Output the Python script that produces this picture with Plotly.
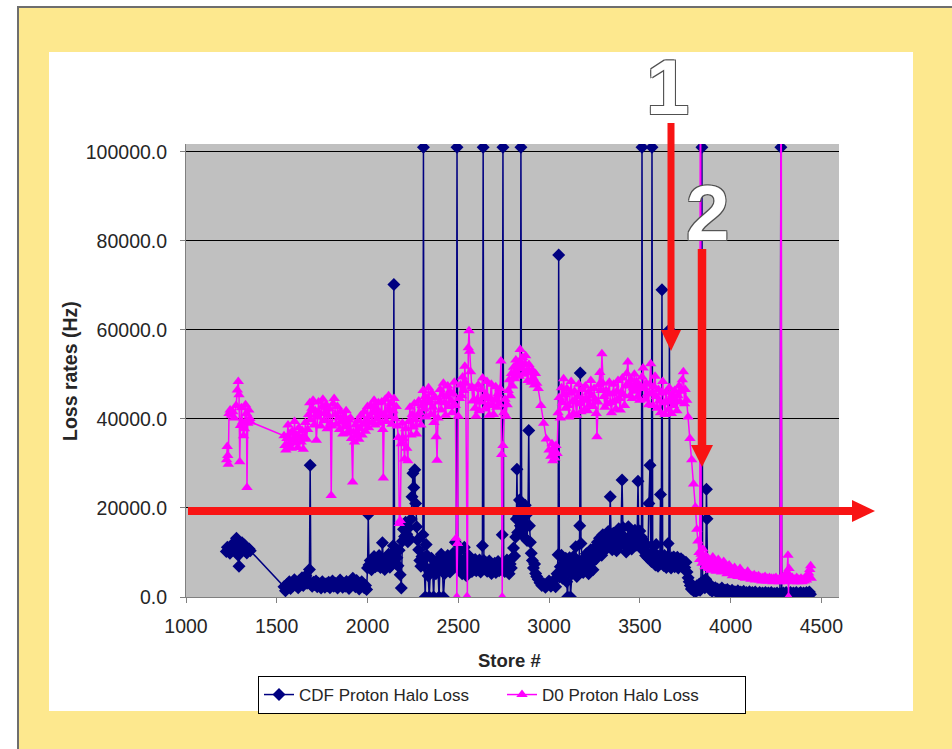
import plotly.graph_objects as go

# ---- CDF proton halo loss rate per store ----
cdf_store = [
    1222, 1228, 1234, 1242, 1250, 1258, 1266, 1272, 1278, 1283,
    1288, 1292, 1297, 1303, 1309, 1316, 1322, 1328, 1335, 1341,
    1348, 1354, 1540, 1548, 1556, 1562, 1569, 1576, 1583, 1590,
    1597, 1604, 1611, 1618, 1625, 1632, 1639, 1646, 1653, 1660,
    1667, 1674, 1680, 1684, 1688, 1695, 1702, 1709, 1716, 1723,
    1730, 1737, 1744, 1751, 1758, 1765, 1772, 1779, 1786, 1793,
    1800, 1807, 1814, 1821, 1828, 1835, 1842, 1849, 1856, 1863,
    1870, 1877, 1884, 1891, 1898, 1905, 1912, 1919, 1926, 1933,
    1940, 1947, 1954, 1961, 1968, 1975, 1982, 1989, 1995, 2000,
    2004, 2008, 2015, 2022, 2029, 2036, 2043, 2050, 2057, 2064,
    2071, 2078, 2082, 2088, 2095, 2102, 2109, 2116, 2123, 2130,
    2137, 2142, 2145, 2149, 2155, 2162, 2168, 2174, 2180, 2186,
    2192, 2198, 2204, 2210, 2216, 2222, 2228, 2234, 2240, 2245,
    2250, 2255, 2260, 2265, 2270, 2276, 2282, 2288, 2294, 2300,
    2305, 2308, 2312, 2318, 2323, 2328, 2334, 2340, 2346, 2352,
    2358, 2364, 2370, 2376, 2382, 2388, 2394, 2400, 2406, 2412,
    2418, 2424, 2430, 2436, 2442, 2448, 2454, 2460, 2466, 2472,
    2478, 2484, 2489, 2493, 2497, 2503, 2509, 2515, 2521, 2527,
    2533, 2539, 2545, 2551, 2557, 2563, 2569, 2575, 2581, 2587,
    2593, 2599, 2605, 2611, 2617, 2623, 2629, 2633, 2637, 2641,
    2647, 2653, 2659, 2665, 2671, 2677, 2683, 2689, 2695, 2701,
    2707, 2713, 2719, 2725, 2731, 2737, 2742, 2746, 2750, 2756,
    2762, 2768, 2774, 2780, 2786, 2792, 2798, 2804, 2810, 2816,
    2820, 2823, 2827, 2832, 2837, 2842, 2845, 2849, 2854, 2859,
    2864, 2869, 2874, 2879, 2884, 2888, 2892, 2897, 2902, 2908,
    2914, 2920, 2926, 2932, 2940, 2950, 2960, 2970, 2980, 2990,
    3000, 3010, 3020, 3028, 3036, 3044, 3050, 3053, 3057, 3062,
    3068, 3074, 3080, 3086, 3092, 3097, 3102, 3107, 3113, 3118,
    3123, 3129, 3135, 3141, 3147, 3153, 3159, 3165, 3169, 3172,
    3176, 3182, 3188, 3194, 3200, 3206, 3212, 3218, 3224, 3230,
    3236, 3242, 3248, 3254, 3260, 3266, 3272, 3278, 3284, 3290,
    3296, 3302, 3308, 3314, 3320, 3326, 3332, 3337, 3342, 3348,
    3354, 3360, 3366, 3372, 3378, 3384, 3390, 3396, 3402, 3407,
    3413, 3419, 3425, 3431, 3437, 3443, 3449, 3455, 3461, 3467,
    3473, 3479, 3485, 3490, 3495, 3500, 3505, 3509, 3512, 3516,
    3521, 3527, 3532, 3538, 3544, 3550, 3556, 3560, 3564, 3567,
    3571, 3576, 3581, 3586, 3590, 3595, 3600, 3605, 3610, 3614,
    3618, 3622, 3626, 3631, 3636, 3641, 3646, 3651, 3656, 3660,
    3663, 3667, 3672, 3677, 3682, 3687, 3692, 3697, 3702, 3707,
    3712, 3717, 3722, 3727, 3732, 3737, 3742, 3748, 3754, 3760,
    3766, 3772, 3778, 3784, 3790, 3796, 3802, 3808, 3814, 3820,
    3826, 3832, 3837, 3842, 3846, 3852, 3858, 3863, 3867, 3870,
    3874, 3880, 3886, 3892, 3898, 3904, 3910, 3916, 3922, 3928,
    3934, 3940, 3946, 3952, 3958, 3964, 3970, 3976, 3982, 3988,
    3994, 4000, 4008, 4016, 4024, 4032, 4040, 4048, 4056, 4064,
    4072, 4080, 4088, 4096, 4104, 4112, 4120, 4128, 4136, 4144,
    4152, 4160, 4168, 4176, 4184, 4192, 4200, 4208, 4216, 4224,
    4232, 4240, 4248, 4256, 4264, 4272, 4277, 4282, 4290, 4298,
    4306, 4314, 4322, 4330, 4338, 4346, 4354, 4362, 4370, 4378,
    4386, 4394, 4402, 4410, 4418, 4426, 4434, 4440,
]
cdf_loss = [
    10200, 11200, 10400, 9800, 11000, 10600, 12300, 11800, 13200, 12400,
    9400, 6900, 10200, 11600, 12200, 10900, 11700, 10300, 9900, 10500,
    10800, 10400, 2300, 1400, 2800, 2300, 3400, 1900, 3000, 2500,
    3900, 2700, 3300, 2100, 3700, 2900, 4300, 2600, 3400, 4800,
    3100, 3600, 6200, 29600, 2900, 2400, 3300, 2800, 3600, 2300,
    3100, 2600, 2000, 3400, 2700, 2200, 3000, 2500, 3300, 2100,
    2900, 3600, 2400, 3100, 2700, 2000, 3200, 3800, 2600, 2200,
    3000, 2400, 3500, 2800, 1900, 2600, 3300, 4200, 3000, 2300,
    3700, 2700, 1800, 2500, 3400, 2900, 2100, 2600, 1700, 6500,
    18500, 7200, 8200, 6100, 7600, 9100, 6800, 8400, 7100, 9300,
    6600, 8700, 12200, 7400, 6200, 8600, 7300, 9600, 6700, 8100,
    9900, 11500, 70200, 9200, 7600, 8800, 7000, 10500, 5000, 2000,
    12500, 15200, 13600, 16800, 14100, 12400, 15600, 13000, 17500, 22500,
    27800, 24600, 28600, 21000, 15800, 12800, 10600, 8200, 6900, 9100,
    14000, 101000, 7000, 0, 11800, 9300, 4800, 0, 5600, 8700,
    6400, 0, 7300, 5200, 8200, 6100, 0, 7800, 9600, 6900,
    0, 5200, 8400, 6300, 9300, 7200, 5600, 8600, 6400, 9800,
    7600, 12300, 9000, 101000, 8800, 6300, 10400, 7700, 5200, 8200,
    11200, 6700, 4800, 7600, 9300, 6100, 8000, 5700, 7300, 6200,
    8400, 5900, 7100, 6500, 8300, 5600, 7000, 11500, 101000, 8200,
    6300, 7700, 5800, 6900, 8100, 6400, 5300, 7200, 6000, 7600,
    5500, 6800, 8000, 5900, 7100, 6200, 14000, 101000, 7300, 5700,
    6800, 8300, 6100, 5200, 7400, 6500, 8800, 11000, 9200, 13500,
    17500, 28700, 14500, 18200, 21800, 16000, 101000, 19800, 15200, 17800,
    13400, 20600, 16300, 12700, 18800, 37400, 16000, 12300, 9800, 8200,
    6500, 7400, 5300, 4600, 4000, 3200, 2600, 3000, 2200, 2700,
    3600, 2400, 2900, 3800, 2300, 5200, 9500, 76800, 4500, 6800,
    9400, 4200, 7500, 5600, 8700, 3400, 0, 6300, 8800, 0,
    5100, 7300, 9100, 6200, 11300, 4600, 8100, 6700, 16000, 50300,
    12000, 7200, 5500, 8800, 6600, 9700, 7400, 5200, 8300, 10600,
    7700, 6100, 9300, 11200, 8600, 12300, 10100, 13200, 11700, 9400,
    14000, 12400, 10700, 13600, 11000, 14700, 12200, 22500, 13100, 10600,
    14300, 11900, 13800, 10400, 12800, 15300, 11500, 13900, 26300, 15600,
    11900, 13300, 10100, 12600, 15800, 11200, 13700, 10800, 14200, 12100,
    15000, 11600, 13100, 26000, 12600, 14800, 11000, 13500, 101000, 12900,
    10400, 12100, 9300, 11600, 8800, 21000, 29600, 9500, 8000, 101000,
    10200, 8100, 9700, 7200, 11800, 8600, 6900, 9200, 7700, 23000,
    9100, 69000, 8600, 7100, 9300, 7600, 6600, 8900, 12000, 7400,
    60000, 8100, 6500, 8800, 7300, 9000, 6800, 8300, 7000, 8900,
    6500, 7900, 7100, 8600, 6900, 8200, 7500, 6600, 7800, 5600,
    4300, 3400, 2600, 1800, 2300, 1400, 2000, 1200, 2500, 1600,
    2800, 1500, 3200, 101000, 2400, 3600, 2100, 4000, 24200, 17600,
    3100, 2200, 1700, 2600, 1300, 2000, 1500, 2100, 1200, 1800,
    900, 1600, 1100, 2000, 1300, 800, 1500, 1000, 1700, 700,
    1300, 900, 1500, 800, 1200, 600, 1400, 900, 1100, 500,
    1300, 800, 1000, 600, 1200, 700, 1000, 500, 1100, 800,
    600, 1000, 700, 900, 500, 1000, 700, 900, 600, 1000,
    500, 800, 700, 900, 500, 800, 101000, 600, 900, 700,
    1000, 500, 800, 1000, 600, 900, 700, 1000, 500, 800,
    1000, 600, 900, 700, 1000, 800, 1100, 600,
]

# ---- D0 proton halo loss rate per store (off-scale spikes run past the top) ----
d0_store = [
    1224, 1227, 1230, 1233, 1237, 1243, 1250, 1258, 1266, 1276,
    1283, 1288, 1292, 1296, 1300, 1305, 1311, 1317, 1322, 1328,
    1333, 1336, 1340, 1346, 1352, 1356, 1540, 1545, 1550, 1556,
    1562, 1568, 1574, 1580, 1586, 1592, 1598, 1604, 1610, 1616,
    1622, 1628, 1634, 1640, 1646, 1652, 1658, 1664, 1670, 1676,
    1682, 1688, 1694, 1700, 1706, 1712, 1718, 1724, 1730, 1736,
    1742, 1748, 1754, 1760, 1766, 1772, 1778, 1784, 1790, 1796,
    1800, 1804, 1810, 1816, 1822, 1828, 1834, 1840, 1846, 1852,
    1858, 1864, 1870, 1876, 1882, 1888, 1894, 1900, 1906, 1912,
    1918, 1922, 1928, 1934, 1940, 1946, 1952, 1958, 1964, 1970,
    1976, 1982, 1988, 1994, 2000, 2006, 2012, 2018, 2024, 2030,
    2036, 2042, 2048, 2054, 2060, 2066, 2072, 2078, 2084, 2087,
    2092, 2098, 2104, 2110, 2116, 2122, 2128, 2134, 2140, 2146,
    2152, 2158, 2164, 2170, 2175, 2180, 2186, 2192, 2198, 2204,
    2210, 2216, 2222, 2228, 2234, 2240, 2246, 2252, 2258, 2264,
    2270, 2276, 2282, 2288, 2294, 2300, 2306, 2312, 2318, 2324,
    2330, 2336, 2342, 2348, 2354, 2360, 2366, 2372, 2378, 2383,
    2388, 2394, 2400, 2406, 2412, 2418, 2424, 2430, 2436, 2442,
    2448, 2454, 2460, 2466, 2472, 2478, 2484, 2488, 2492, 2496,
    2500, 2506, 2512, 2518, 2524, 2530, 2536, 2541, 2546, 2550,
    2555, 2559, 2563, 2568, 2574, 2580, 2586, 2592, 2598, 2604,
    2610, 2616, 2622, 2628, 2634, 2640, 2646, 2652, 2658, 2664,
    2670, 2676, 2682, 2688, 2694, 2700, 2706, 2712, 2718, 2724,
    2730, 2735, 2739, 2742, 2746, 2751, 2757, 2763, 2769, 2775,
    2781, 2787, 2793, 2799, 2805, 2811, 2817, 2823, 2829, 2835,
    2841, 2847, 2853, 2859, 2865, 2871, 2877, 2883, 2889, 2895,
    2901, 2907, 2913, 2919, 2925, 2932, 2940, 2955, 2970, 2985,
    3000, 3010, 3016, 3021, 3026, 3032, 3038, 3044, 3050, 3056,
    3062, 3068, 3074, 3080, 3086, 3092, 3098, 3104, 3110, 3116,
    3122, 3128, 3134, 3140, 3146, 3152, 3158, 3164, 3170, 3176,
    3182, 3188, 3194, 3200, 3206, 3212, 3218, 3224, 3230, 3236,
    3242, 3248, 3254, 3260, 3264, 3268, 3274, 3280, 3286, 3291,
    3296, 3302, 3308, 3314, 3320, 3326, 3332, 3338, 3344, 3350,
    3356, 3362, 3368, 3374, 3380, 3386, 3392, 3398, 3404, 3410,
    3416, 3422, 3428, 3434, 3440, 3446, 3452, 3458, 3464, 3470,
    3476, 3482, 3488, 3494, 3500, 3506, 3512, 3518, 3524, 3530,
    3536, 3542, 3548, 3554, 3560, 3566, 3572, 3578, 3584, 3590,
    3596, 3602, 3608, 3614, 3620, 3626, 3632, 3638, 3644, 3650,
    3656, 3662, 3668, 3674, 3680, 3686, 3692, 3698, 3704, 3710,
    3716, 3722, 3728, 3734, 3740, 3746, 3750, 3758, 3766, 3776,
    3786, 3796, 3806, 3814, 3820, 3826, 3830, 3834, 3838, 3843,
    3848, 3853, 3858, 3863, 3868, 3873, 3878, 3884, 3890, 3896,
    3902, 3908, 3914, 3920, 3926, 3932, 3938, 3944, 3950, 3956,
    3962, 3968, 3974, 3980, 3986, 3992, 3998, 4004, 4010, 4016,
    4022, 4028, 4034, 4040, 4046, 4052, 4058, 4064, 4070, 4076,
    4082, 4088, 4094, 4100, 4106, 4112, 4118, 4124, 4130, 4136,
    4142, 4148, 4154, 4160, 4166, 4172, 4178, 4184, 4190, 4196,
    4202, 4208, 4214, 4220, 4226, 4232, 4238, 4244, 4250, 4256,
    4262, 4268, 4274, 4278, 4282, 4288, 4294, 4300, 4306, 4311,
    4316, 4319, 4322, 4328, 4334, 4340, 4346, 4352, 4358, 4364,
    4370, 4376, 4382, 4388, 4394, 4400, 4406, 4412, 4418, 4424,
    4430, 4436, 4441, 4444,
]
d0_loss = [
    30800, 33800, 31800, 29800, 41200, 42000, 40800, 41600, 40200, 43000,
    46500, 48400, 45400, 30400, 38500, 42500, 39300, 36200, 37800, 43200,
    41200, 24600, 39000, 42000, 40100, 39300, 36200, 34000, 33000, 35600,
    38600, 34400, 36800, 33400, 37200, 35200, 39400, 34600, 36400, 33600,
    38000, 35800, 34800, 37400, 33200, 36000, 39200, 35400, 37600, 41000,
    43600, 39800, 42400, 44200, 38600, 41800, 35200, 40400, 43800, 41200,
    38400, 42600, 44400, 39600, 41400, 43200, 37800, 40800, 42200, 39000,
    22800, 38400, 43400, 44600, 41000, 38800, 42800, 40200, 37600, 41600,
    39400, 36600, 40600, 38200, 41800, 36800, 39800, 37400, 40200, 35600,
    25800, 37000, 34800, 38600, 36200, 39600, 35400, 37800, 40800, 36400,
    38800, 41600, 37200, 39400, 42800, 38000, 40600, 43000, 39200, 41400,
    44200, 38600, 42400, 40000, 43600, 39000, 41200, 43800, 37600, 26700,
    40800, 44400, 39400, 42000, 45200, 40600, 43400, 38800, 41800, 44600,
    40000, 42800, 38400, 35800, 16500, 17200, 34400, 39000, 35600, 31000,
    37800, 33400, 30600, 39400, 42600, 36400, 41000, 38200, 43400, 39800,
    36600, 40800, 44000, 41400, 38600, 43000, 46400, 42200, 45000, 40400,
    43600, 47000, 44200, 41000, 45800, 42600, 39200, 44800, 36000, 30700,
    40200, 43800, 46600, 42000, 45400, 48000, 43600, 40800, 45000, 47400,
    42800, 46200, 44000, 41400, 45600, 48200, 43000, 13200, 0, 12000,
    40600, 44600, 47600, 45200, 49400, 46400, 51800, 48000, 0, 0,
    56000, 59800, 55200, 50600, 47200, 44000, 46800, 42400, 40600, 44400,
    47600, 41800, 43800, 46600, 49200, 44800, 42200, 45400, 48400, 43200,
    40800, 44600, 47800, 43000, 41000, 44200, 47200, 42600, 45600, 43400,
    46800, 53000, 32000, 0, 34000, 41400, 44400, 40600, 43200, 46400,
    48800, 45200, 50200, 47400, 51600, 49000, 53200, 50400, 52600, 49600,
    55600, 51200, 53800, 50000, 52400, 54200, 50800, 48600, 52200, 50400,
    48200, 51000, 49200, 47600, 50200, 48000, 46800, 43000, 39000, 35500,
    33000, 31600, 34400, 30600, 32800, 31200, 34000, 32200, 41400, 44800,
    40200, 47000, 43600, 49000, 45400, 42400, 46800, 43000, 40400, 45800,
    48400, 43800, 41200, 46200, 44000, 40800, 45000, 47800, 43400, 41600,
    46600, 44200, 42000, 47400, 44600, 41800, 46000, 43200, 48600, 45200,
    42800, 46800, 44400, 41200, 36000, 43800, 47600, 50400, 46400, 54600,
    48000, 45000, 42600, 46400, 43400, 45800, 48200, 43600, 41400, 45600,
    47800, 44000, 42200, 46200, 48600, 44600, 42000, 46000, 49200, 45400,
    43000, 47400, 50200, 52800, 47800, 45200, 48800, 44600, 47000, 50000,
    46200, 48400, 45000, 47600, 44200, 46800, 49400, 51400, 47000, 44400,
    48000, 45600, 43200, 47800, 52400, 45800, 43000, 47200, 49600, 45000,
    42400, 46600, 44000, 41400, 45800, 48400, 43600, 41000, 46000, 43800,
    42000, 47000, 44400, 41200, 45400, 43000, 46400, 44200, 41800, 45200,
    47400, 43800, 46200, 48800, 50600, 43400, 46600, 44200, 40400, 35600,
    30800, 25400, 20200, 15200, 12600, 10000, 8400, 150000, 9600, 7600,
    10800, 8200, 6800, 9400, 7200, 8800, 6400, 8200, 6000, 7600,
    9000, 6600, 7800, 5800, 7000, 8400, 6200, 7200, 5600, 6800,
    8000, 5800, 6600, 5200, 6200, 7200, 5400, 6400, 4800, 5800,
    6600, 5000, 5800, 4600, 5600, 6400, 4800, 5400, 4400, 5200,
    4200, 5000, 5800, 4400, 5000, 4000, 4800, 4200, 5000, 3800,
    4600, 4000, 4800, 3800, 4400, 3600, 4400, 3800, 4600, 3600,
    4200, 3600, 4400, 3800, 4200, 3400, 4200, 3600, 4400, 3600,
    4000, 3400, 4200, 150000, 3600, 4200, 3400, 4600, 3800, 5600,
    9400, 0, 6400, 4200, 3600, 4400, 3400, 4000, 3600, 4400,
    3400, 4000, 3600, 4200, 3400, 4000, 3600, 4400, 3800, 4600,
    5400, 6200, 7000, 4200,
]

x_ticks = [1000, 1500, 2000, 2500, 3000, 3500, 4000, 4500]
y_ticks = [0, 20000, 40000, 60000, 80000, 100000]

# ---- page geometry (pixels) ----
W, H = 952, 749
ML, MR, MT, MB = 186, 113, 144, 152
PW, PH = W - ML - MR, H - MT - MB


def fx(px):
    return (px - ML) / PW


def fy(py):
    return (H - MB - py) / PH


TEXT = "#262626"
RED = "#F81414"
FONT = "Liberation Sans, Arial, sans-serif"

fig = go.Figure()
fig.add_trace(go.Scatter(
    x=cdf_store, y=cdf_loss, mode="lines+markers", name="CDF Proton Halo Loss",
    line=dict(color="#000080", width=1.5),
    marker=dict(symbol="diamond", size=10, color="#000080"),
))
fig.add_trace(go.Scatter(
    x=d0_store, y=d0_loss, mode="lines+markers", name="D0 Proton Halo Loss",
    line=dict(color="#FF00FF", width=1.5),
    marker=dict(symbol="triangle-up", size=10, color="#FF00FF"),
))

shapes = [
    # yellow slide frame with its dark outline
    dict(type="rect", xref="paper", yref="paper", layer="below",
         x0=fx(18), x1=fx(970), y0=fy(770), y1=fy(7),
         fillcolor="#FDE88E", line=dict(color="#6E6E6E", width=2)),
    # white chart panel
    dict(type="rect", xref="paper", yref="paper", layer="below",
         x0=fx(49), x1=fx(913), y0=fy(711), y1=fy(52),
         fillcolor="#FFFFFF", line=dict(width=0)),
    # grey plot area
    dict(type="rect", xref="paper", yref="paper", layer="below",
         x0=0, x1=1, y0=0, y1=1, fillcolor="#C0C0C0", line=dict(width=0)),
]


def arrow(x0, y0, x1, y1, width, head_len, head_half):
    """Thick red arrow from (x0,y0) to tip (x1,y1), pixel coordinates."""
    out = []
    if y0 == y1:  # horizontal, pointing right
        out.append(dict(type="line", xref="paper", yref="paper",
                        x0=fx(x0), x1=fx(x1 - head_len + 1), y0=fy(y0), y1=fy(y1),
                        line=dict(color=RED, width=width)))
        path = (f"M {fx(x1 - head_len)},{fy(y1 - head_half)} "
                f"L {fx(x1)},{fy(y1)} L {fx(x1 - head_len)},{fy(y1 + head_half)} Z")
    else:  # vertical, pointing down
        out.append(dict(type="line", xref="paper", yref="paper",
                        x0=fx(x0), x1=fx(x1), y0=fy(y0), y1=fy(y1 - head_len + 1),
                        line=dict(color=RED, width=width)))
        path = (f"M {fx(x1 - head_half)},{fy(y1 - head_len)} "
                f"L {fx(x1)},{fy(y1)} L {fx(x1 + head_half)},{fy(y1 - head_len)} Z")
    out.append(dict(type="path", xref="paper", yref="paper", path=path,
                    fillcolor=RED, line=dict(width=0)))
    return out


shapes += arrow(188, 511, 875, 511, 8, 23, 11)
shapes += arrow(671, 123, 671, 351, 7, 21, 10)
shapes += arrow(702, 249, 702, 467, 8.5, 22, 11)

outline = ("-1px -1px 0 #505050, 1px -1px 0 #505050, "
           "-1px 1px 0 #505050, 1px 1px 0 #505050")
num_font = dict(family=FONT, size=78, color="white", weight="bold", shadow=outline)

annotations = [
    dict(text="1", xref="paper", yref="paper", x=fx(667), y=fy(87),
         xanchor="center", yanchor="middle", showarrow=False, font=num_font),
    dict(text="2", xref="paper", yref="paper", x=fx(707), y=fy(213),
         xanchor="center", yanchor="middle", showarrow=False, font=num_font),
    dict(text="<b>Loss rates (Hz)</b>", xref="paper", yref="paper",
         x=fx(70), y=fy(371), textangle=-90, xanchor="center", yanchor="middle",
         showarrow=False, font=dict(family=FONT, size=19.5, color=TEXT)),
    dict(text="<b>Store #</b>", xref="paper", yref="paper",
         x=fx(509), y=fy(660), xanchor="center", yanchor="middle",
         showarrow=False, font=dict(family=FONT, size=18.5, color=TEXT)),
]

fig.update_layout(
    width=W, height=H,
    margin=dict(l=ML, r=MR, t=MT, b=MB),
    paper_bgcolor="white",
    plot_bgcolor="#C0C0C0",
    font=dict(family=FONT, size=18, color=TEXT),
    shapes=shapes,
    annotations=annotations,
    showlegend=True,
    legend=dict(
        orientation="h", x=fx(502), xanchor="center", y=fy(676), yanchor="top",
        bgcolor="white", bordercolor="black", borderwidth=1,
        entrywidth=198, entrywidthmode="pixels",
        font=dict(family=FONT, size=17, color=TEXT),
    ),
    xaxis=dict(
        range=[1000, 1000 + PW / 0.18153], tickvals=x_ticks,
        showgrid=False, zeroline=False, showline=True, linecolor="#808080",
        ticks="outside", ticklen=5, tickcolor="#808080", ticklabelstandoff=7,
        tickfont=dict(family=FONT, size=19.5, color=TEXT),
    ),
    yaxis=dict(
        range=[0, 101730], tickvals=y_ticks, tickformat=".1f",
        showgrid=True, gridcolor="black", gridwidth=1,
        zeroline=False, showline=True, linecolor="#808080",
        ticks="outside", ticklen=5, tickcolor="#808080", ticklabelstandoff=9,
        tickfont=dict(family=FONT, size=19.5, color=TEXT),
    ),
)

fig.write_html("out.html")
